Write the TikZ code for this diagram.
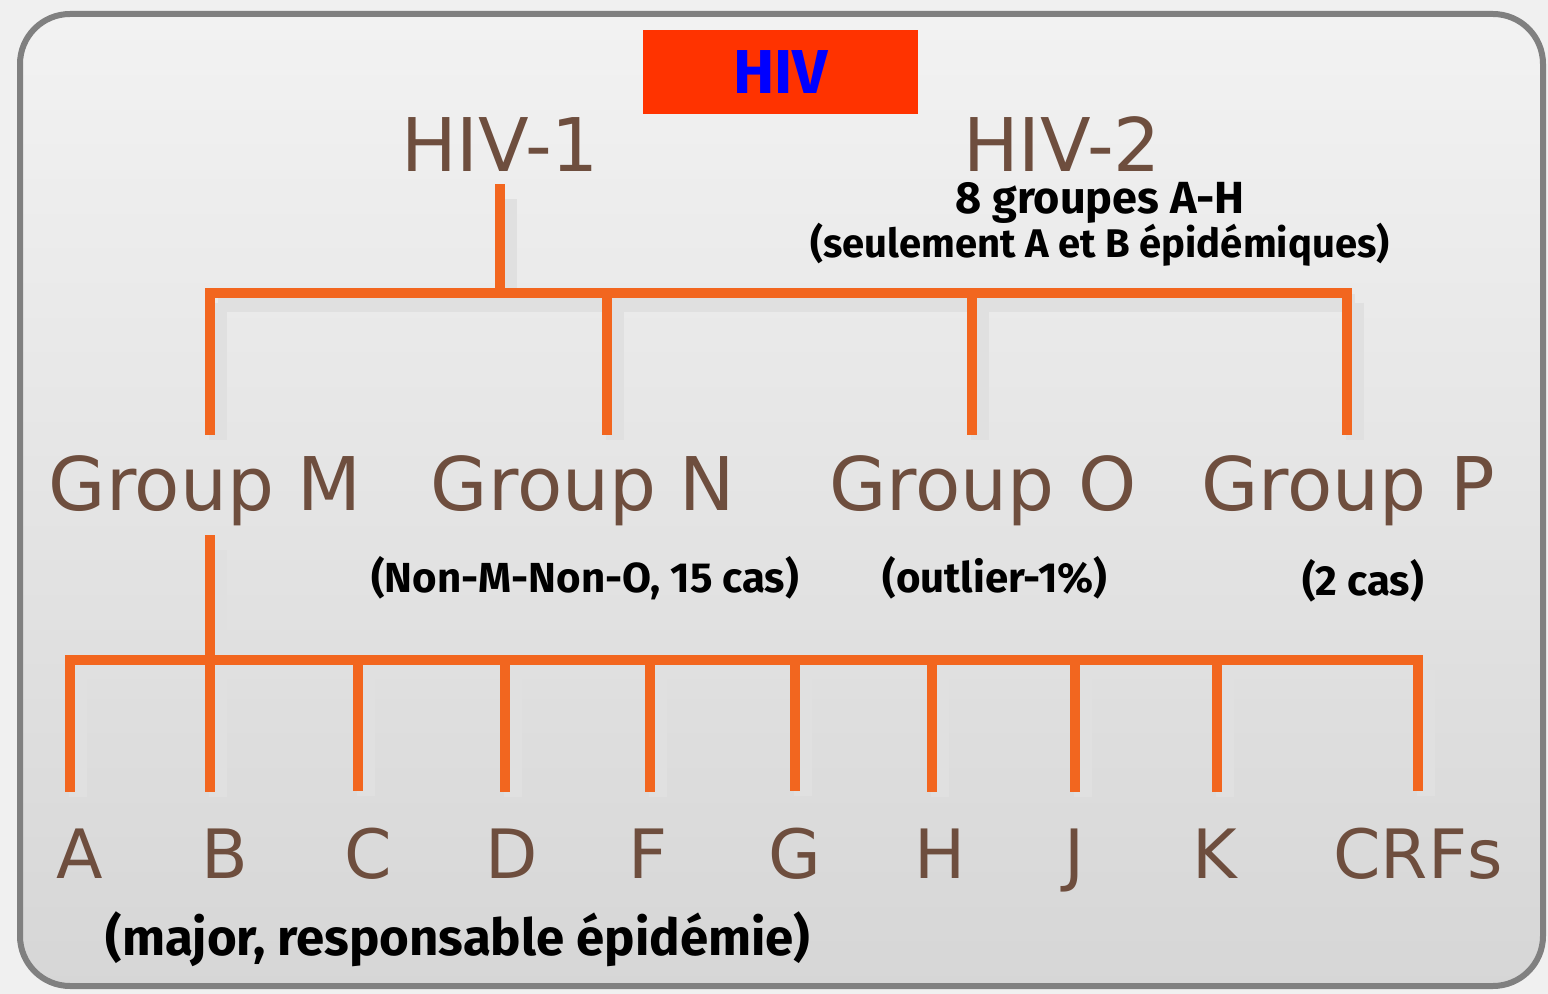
\documentclass[tikz,border=0pt]{standalone}
\usepackage{fontspec}
\setmainfont{DejaVu Sans}
\newfontfamily\notefont{Fira Sans}
\usetikzlibrary{calc}
\definecolor{hivorange}{HTML}{F2661F}
\definecolor{hivbrown}{HTML}{6E4E3E}
\definecolor{hivred}{HTML}{FF3300}
\tikzset{
  branch/.style={draw=hivorange, line width=5pt, line cap=rect,
    preaction={draw=black!12, line width=9pt, transform canvas={xshift=4pt,yshift=-5pt}}},
  grouptext/.style={text=hivbrown, anchor=base, font=\fontsize{37}{40}\selectfont},
  subtypetext/.style={text=hivbrown, anchor=base, font=\fontsize{34}{38}\selectfont},
  notetext/.style={text=black, anchor=base, inner sep=1pt, font=\notefont\bfseries\fontsize{21}{24}\selectfont}
}
\begin{document}
\begin{tikzpicture}[x=0.5pt,y=-0.5pt]
\useasboundingbox (0,0) rectangle (1548,994);
\fill [black!6] (0,0) rectangle (1548,994);
\draw [black!50, line width=3pt, rounded corners=25pt, top color=black!5, bottom color=black!16] (20,14) rectangle (1543,986);
\node [fill=hivred, minimum width=137.5pt, minimum height=42pt, text=blue, font=\notefont\bfseries\fontsize{31}{34}\selectfont] (hiv) at (780.5,72) {HIV};
\node [grouptext] (h1) at (500,172) {HIV-1};
\node [grouptext, inner sep=0pt, text depth=0pt] (h2) at (1062,172) {HIV-2};
\node [notetext, inner sep=0pt, font=\notefont\bfseries\fontsize{22.5}{25}\selectfont] (h2groups) at (1100,214) {8 groupes A-H};
\node [notetext, font=\notefont\bfseries\fontsize{20}{23}\selectfont] (h2epi) at (1100,258) {(seulement A et B épidémiques)};
\coordinate (bar1) at (500,293);
\foreach \x/\g/\lx in {210/M/205,607/N/583,972/O/983,1347/P/1348}
{       \node [grouptext] (g\g) at (\lx,510) {Group \g};
        \coordinate (t\g) at (\x,293);
}
\node [notetext] (nN) at (585,592) {(Non-M-Non-O, 15 cas)};
\node [notetext] (nO) at (995,592) {(outlier-1\%)};
\node [notetext] (nP) at (1363,596) {(2 cas)};
\coordinate (bar2L) at (70,660);
\coordinate (bar2R) at (1418,660);
\foreach \x/\s/\lx in {70/A/80,210/B/225,358/C/368,505/D/512,650/F/648,795/G/795,932/H/940,1075/J/1075,1217/K/1215,1418/CRFs/1418}
{       \node [subtypetext] (s\s) at (\lx,878) {\s};
        \coordinate (b\s) at (\x,660);
}
\node [notetext, font=\notefont\bfseries\fontsize{25.5}{28}\selectfont] (nM) at (458,955) {(major, responsable épidémie)};
\draw [branch] ([yshift=-5pt]h1.south) -- (bar1)
  foreach \g in {M,N,O,P} {(t\g) -- ([yshift=9pt]t\g |- g\g.north)}
  (tM) -- (tP)
  ([yshift=-4pt]gM.south -| tM) -- (tM |- bar2L)
  (bar2L) -- (bar2R)
  foreach \s in {A,B,C,D,F,G,H,J,K,CRFs} {(b\s) -- ([yshift=17pt]b\s |- s\s.north)};
\end{tikzpicture}
\end{document}
